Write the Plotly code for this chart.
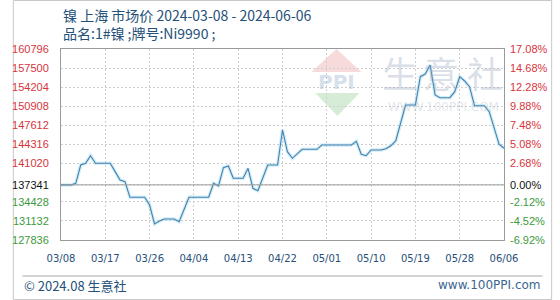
import plotly.graph_objects as go
import pandas as pd

# ---------------- data ----------------
dates = pd.date_range("2024-03-08", "2024-06-06", freq="D").strftime("%Y-%m-%d").tolist()
prices = [
    137341, 137341, 137341, 137620, 140778, 141071, 142383, 141071, 141071, 141071,
    141071, 139639, 138190, 137896, 135204, 135204, 135204, 135204, 133876, 130597,
    131115, 131460, 131460, 131460, 130994, 133099, 135204, 135204, 135204, 135204,
    135204, 137620, 137154, 140312, 140605, 138483, 138483, 138483, 140209, 136757,
    136343, 138535, 140778, 140778, 140778, 146818, 143073, 141934, 142711, 143487,
    143487, 143487, 143487, 144229, 144229, 144229, 144229, 144229, 144229, 144229,
    144868, 142624, 142383, 143366, 143366, 143366, 143591, 144091, 144919, 148250,
    151132, 151132, 151132, 156015, 156481, 158034, 152857, 152391, 152391, 152391,
    153427, 156015, 155273, 154289, 151011, 151011, 151011, 149975, 147163, 144350,
    143660,
]
left_ticks = [127836, 131132, 134428, 137341, 141020, 144316, 147612, 150908, 154204, 157500, 160796]
x_tick_labels = ["03/08", "03/17", "03/26", "04/04", "04/13", "04/22",
                 "05/01", "05/10", "05/19", "05/28", "06/06"]
x_tick_dates = dates[::9]
title_line1 = "镍 上海 市场价 2024-03-08 - 2024-06-06"
title_line2 = "品名:1#镍 ;牌号:Ni9990 ;"

base = prices[0]
RED, GREEN, BLACK = "#d8343c", "#3c9a3c", "#111111"


def col(v):
    return BLACK if v == base else (RED if v > base else GREEN)


left_text = [f"<span style='color:{col(v)}'>{v}</span>" for v in left_ticks]
right_text = [f"<span style='color:{col(v)}'>{(v / base - 1) * 100:.2f}%</span>" for v in left_ticks]

# plot area in pixels: x 50..510, y 49..240
L, R, T, B = 50, 510, 49, 240


def px(p):
    return (p - L) / (R - L)


def py(p):
    return (B - p) / (B - T)


fig = go.Figure()
# soft halo under line
fig.add_trace(go.Scatter(x=dates, y=prices, mode="lines",
                         line=dict(color="rgba(160,215,240,0.45)", width=3.5),
                         hoverinfo="skip", showlegend=False))
fig.add_trace(go.Scatter(x=dates, y=prices, mode="lines",
                         line=dict(color="#4282ad", width=1.1),
                         showlegend=False))
# invisible trace to anchor right axis
fig.add_trace(go.Scatter(x=dates, y=prices, yaxis="y2", mode="lines",
                         line=dict(width=0, color="rgba(0,0,0,0)"),
                         hoverinfo="skip", showlegend=False))

yr = [left_ticks[0], left_ticks[-1]]
fig.update_layout(
    width=560, height=300,
    margin=dict(l=L, r=560 - R, t=T, b=300 - B, pad=0),
    paper_bgcolor="white", plot_bgcolor="white",
    showlegend=False,
    font=dict(family="Liberation Sans, Arial", size=11),
    xaxis=dict(type="date", range=[dates[0], dates[-1]],
               tickmode="array", tickvals=x_tick_dates, ticktext=x_tick_labels,
               tickfont=dict(family="DejaVu Sans", size=10, color="#27507a"),
               showgrid=True, gridcolor="#cfcfcf", griddash="2px,2px", gridwidth=1,
               showline=True, linecolor="#9a9a9a", linewidth=1, mirror=True,
               ticks="", ticklabelstandoff=9, zeroline=False),
    yaxis=dict(range=yr, tickmode="array", tickvals=left_ticks, ticktext=left_text,
               tickfont=dict(family="Liberation Sans, Arial", size=11),
               showgrid=True, gridcolor="#cfcfcf", griddash="2px,2px", gridwidth=1,
               showline=True, linecolor="#9a9a9a", linewidth=1, mirror=True,
               ticks="", ticklabelstandoff=9, zeroline=False),
    yaxis2=dict(range=yr, overlaying="y", side="right", tickmode="array",
                tickvals=left_ticks, ticktext=right_text,
                tickfont=dict(family="Liberation Sans, Arial", size=11),
                showgrid=False, showline=False, ticks="", ticklabelstandoff=5,
                zeroline=False),
)

shapes = [
    # baseline
    dict(type="line", xref="paper", yref="y", x0=0, x1=1, y0=base, y1=base,
         line=dict(color="#9a9a9a", width=1)),
    # outer border
    dict(type="rect", xref="paper", yref="paper", x0=px(0.5), x1=px(559.5),
         y0=py(299.5), y1=py(0.5), line=dict(color="#c8c8c8", width=1), layer="below"),
    # footer separator
    dict(type="line", xref="paper", yref="paper", x0=px(10), x1=px(550),
         y0=py(276), y1=py(276), line=dict(color="#a8a8a8", width=1)),
    # watermark logo: red roof, green bottom
    dict(type="path", xref="paper", yref="paper", layer="below",
         path=f"M {px(310)},{py(72)} L {px(336)},{py(49)} L {px(362)},{py(72)} Z",
         fillcolor="rgba(235,165,165,0.40)", line=dict(width=0)),
    dict(type="path", xref="paper", yref="paper", layer="below",
         path=f"M {px(314)},{py(93)} L {px(360)},{py(93)} L {px(337)},{py(116)} Z",
         fillcolor="rgba(165,212,165,0.45)", line=dict(width=0)),
]
fig.update_layout(shapes=shapes)

ann = [
    dict(text=title_line1 + "<br>" + title_line2, x=px(50), y=py(24),
         font=dict(family="Noto Sans CJK SC", size=14, color="#245079")),
    dict(text="© 2024.08 生意社", x=px(10), y=py(285), font=dict(family="Noto Sans CJK SC", size=13, color="#245079")),
    dict(text="www.100PPI.com", x=px(550), y=py(285), xanchor="right",
         font=dict(family="DejaVu Sans", size=12, color="#3a6690")),
    # watermark text
    dict(text="<b>PPI</b>", x=px(336), y=py(82), xanchor="center",
         font=dict(family="DejaVu Sans", size=20, color="rgba(150,175,205,0.40)")),
    dict(text="生", x=px(402), y=py(72), xanchor="center",
         font=dict(family="Noto Sans CJK SC", size=36, color="rgba(160,172,195,0.38)")),
    dict(text="意", x=px(445), y=py(72), xanchor="center",
         font=dict(family="Noto Sans CJK SC", size=36, color="rgba(160,172,195,0.38)")),
    dict(text="社", x=px(490), y=py(72), xanchor="center",
         font=dict(family="Noto Sans CJK SC", size=36, color="rgba(160,172,195,0.38)")),
    dict(text="WWW.100PPI.COM", x=px(447), y=py(107), xanchor="center",
         font=dict(family="DejaVu Sans", size=12, color="rgba(170,180,195,0.35)")),
]
for a in ann:
    a.setdefault("xanchor", "left")
    a.update(xref="paper", yref="paper", yanchor="middle", showarrow=False, align="left")
fig.update_layout(annotations=ann)

fig.write_html("out.html")
